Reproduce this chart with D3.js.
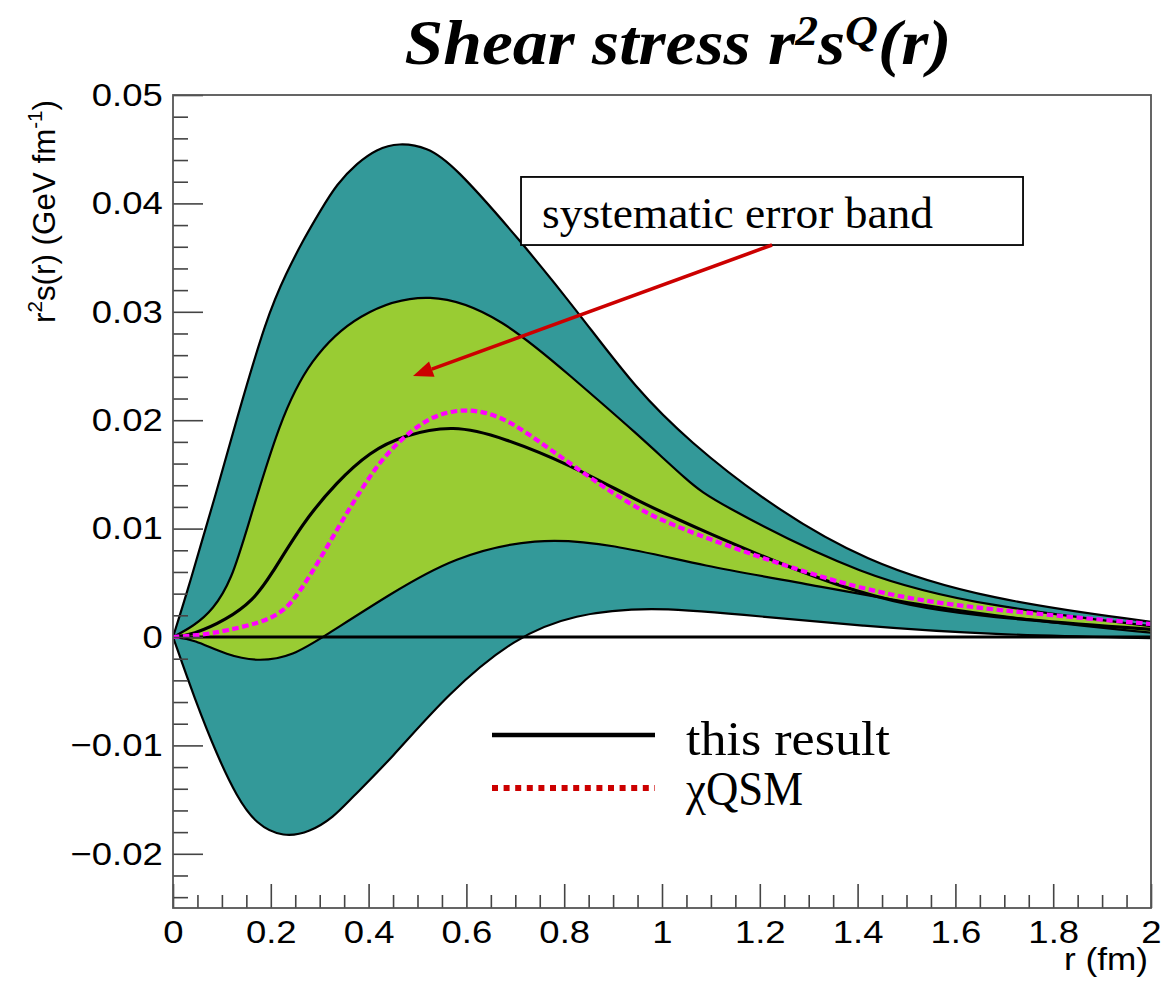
<!DOCTYPE html>
<html><head><meta charset="utf-8">
<script src="https://cdn.jsdelivr.net/npm/d3@7"></script>
<style>body{margin:0;background:#fff;} svg{display:block}</style>
</head><body>
<svg id="c" width="1166" height="982"></svg>
<script>
// ---------- data (r in fm, value in GeV fm^-1) ----------
const outerUpper = [[0,0],[0.03,0.0043],[0.06,0.0090],[0.084,0.0126],[0.127,0.0196],[0.192,0.0296],[0.232,0.0336],[0.266,0.0366],[0.301,0.0393],[0.335,0.0418],[0.376,0.0437],[0.416,0.0450],[0.461,0.0456],[0.52,0.0452],[0.573,0.0436],[0.71,0.0366],[0.833,0.0297],[0.948,0.0228],[1.057,0.0180],[1.207,0.0126],[1.413,0.0069],[1.671,0.0034],[2,0.0014]];
const outerLower = [[0,0],[0.045,-0.0058],[0.09,-0.0109],[0.13,-0.0147],[0.17,-0.0173],[0.226,-0.0185],[0.28,-0.0180],[0.329,-0.0166],[0.362,-0.0150],[0.445,-0.0113],[0.562,-0.0052],[0.70,0],[0.82,0.0021],[0.974,0.0028],[1.155,0.0021],[1.413,0.0010],[1.671,0.0002],[2,-0.0001]];
const innerUpper = [[0,0],[0.042,0.0010],[0.082,0.0025],[0.12,0.0053],[0.151,0.0099],[0.219,0.0201],[0.28,0.0256],[0.376,0.0299],[0.526,0.0321],[0.675,0.0294],[0.812,0.0241],[0.948,0.0188],[1.057,0.0142],[1.103,0.0126],[1.413,0.0054],[1.671,0.0028],[2,0.0010]];
const innerLower = [[0,0],[0.042,-0.0002],[0.11,-0.0017],[0.178,-0.0023],[0.246,-0.0017],[0.307,0],[0.445,0.0040],[0.574,0.0074],[0.742,0.0092],[0.897,0.0086],[1.09,0.0065],[1.284,0.0050],[1.542,0.0028],[1.8,0.0013],[2,0.0004]];
const thisResult = [[0,0],[0.04,0.0002],[0.11,0.0016],[0.164,0.0034],[0.198,0.0055],[0.266,0.0106],[0.335,0.0143],[0.403,0.0171],[0.471,0.0186],[0.573,0.0196],[0.675,0.0184],[0.812,0.0159],[0.948,0.0126],[1.057,0.0103],[1.413,0.0034],[1.671,0.0018],[2,0.0007]];
const chiQSM = [[0,0],[0.062,0.0002],[0.11,0.0006],[0.178,0.0013],[0.226,0.0023],[0.26,0.0042],[0.301,0.0072],[0.348,0.0109],[0.389,0.0139],[0.430,0.0166],[0.485,0.0190],[0.539,0.0206],[0.607,0.0211],[0.675,0.0203],[0.744,0.0182],[0.846,0.0149],[0.948,0.0118],[1.057,0.0096],[1.413,0.0040],[1.671,0.0025],[2,0.0012]];

const xTickValues = [0,0.2,0.4,0.6,0.8,1,1.2,1.4,1.6,1.8,2];
const xTickLabels = ["0","0.2","0.4","0.6","0.8","1","1.2","1.4","1.6","1.8","2"];
const yTickValues = [-0.02,-0.01,0,0.01,0.02,0.03,0.04,0.05];
const yTickLabels = ["\u22120.02","\u22120.01","0","0.01","0.02","0.03","0.04","0.05"];
const legendLabels = ["this result","\u03c7QSM"];
const annotationText = "systematic error band";

// ---------- layout ----------
const frame = {l:173, r:1151, t:95, b:908};
const svg = d3.select("#c");
const x = d3.scaleLinear().domain([0,2]).range([frame.l, frame.r]);
const y = d3.scaleLinear().domain([-0.025,0.05]).range([frame.b, frame.t]);
const TEAL = "#339999", GREEN = "#99cc33";
const serif = "'Liberation Serif', serif", sans = "'Liberation Sans', Arial, sans-serif";

svg.append("rect").attr("width",1166).attr("height",982).attr("fill","#fff");
svg.append("defs").append("clipPath").attr("id","clip").append("rect")
  .attr("x",frame.l).attr("y",frame.t).attr("width",frame.r-frame.l).attr("height",frame.b-frame.t);

const line = d3.line().x(d=>x(d[0])).y(d=>y(d[1])).curve(d3.curveBasis);
function band(up, low){
  return line(up) + "L" + line(low.slice().reverse()).slice(1) + "Z";
}
const plot = svg.append("g").attr("clip-path","url(#clip)");
plot.append("path").attr("d", band(outerUpper, outerLower)).attr("fill", TEAL);
plot.append("path").attr("d", band(innerUpper, innerLower)).attr("fill", GREEN);
[outerUpper, outerLower, innerUpper, innerLower].forEach(c=>{
  plot.append("path").attr("d", line(c)).attr("fill","none").attr("stroke","#000").attr("stroke-width",2.2);
});
plot.append("line").attr("x1",x(0)).attr("x2",x(2)).attr("y1",y(0)).attr("y2",y(0))
  .attr("stroke","#000").attr("stroke-width",2.8);
plot.append("path").attr("d", line(thisResult)).attr("fill","none").attr("stroke","#000").attr("stroke-width",3.2);
plot.append("path").attr("d", line(chiQSM)).attr("fill","none").attr("stroke","#ff00ff")
  .attr("stroke-width",4.2).attr("stroke-dasharray","6.5,3.5");

// ---------- axes ----------
const axG = svg.append("g");
const yMinor = d3.range(-24,50,2).map(v=>v/1000).filter(v=>Math.abs(Math.round(v*1000)%10)!==0);
const xMinor = d3.range(0,41).map(v=>v*0.05).filter(v=>Math.abs(Math.round(v*100)%20)!==0);

const yAx = axG.append("g").attr("transform",`translate(${frame.l},0)`)
  .call(d3.axisLeft(y).tickValues(yTickValues).tickSize(-30).tickPadding(9)
    .tickFormat((d,i)=>yTickLabels[i]));
const yAxMin = axG.append("g").attr("transform",`translate(${frame.l},0)`)
  .call(d3.axisLeft(y).tickValues(yMinor).tickSize(-15).tickFormat(""));
const xAx = axG.append("g").attr("transform",`translate(0,${frame.b})`)
  .call(d3.axisBottom(x).tickValues(xTickValues).tickSize(-24).tickPadding(12)
    .tickFormat((d,i)=>xTickLabels[i]));
const xAxMin = axG.append("g").attr("transform",`translate(0,${frame.b})`)
  .call(d3.axisBottom(x).tickValues(xMinor).tickSize(-13).tickFormat(""));
[yAx,yAxMin,xAx,xAxMin].forEach(g=>{
  g.select(".domain").remove();
  g.selectAll(".tick line").attr("stroke","#444").attr("stroke-width",1.6);
  g.selectAll("text").attr("font-family",sans).attr("font-size",32).attr("fill","#000")
    .attr("transform","scale(1.14,1)");
});
svg.append("rect").attr("x",frame.l).attr("y",frame.t).attr("width",frame.r-frame.l).attr("height",frame.b-frame.t)
  .attr("fill","none").attr("stroke","#555").attr("stroke-width",1.8);

// axis titles
svg.append("text").attr("x",frame.r-3).attr("y",970).attr("text-anchor","end")
  .attr("font-family",sans).attr("font-size",32)
  .attr("transform",`translate(${frame.r-3},0) scale(1.1,1) translate(${-(frame.r-3)},0)`)
  .text("r (fm)");
const yt = svg.append("text").attr("transform","translate(55,100) rotate(-90)")
  .attr("text-anchor","end").attr("font-family",sans).attr("font-size",32)
  .attr("textLength",223).attr("lengthAdjust","spacingAndGlyphs");
yt.append("tspan").text("r");
yt.append("tspan").attr("font-size",21).attr("dy",-13).text("2");
yt.append("tspan").attr("dy",13).text("s(r) (GeV fm");
yt.append("tspan").attr("font-size",21).attr("dy",-13).text("-1");
yt.append("tspan").attr("dy",13).text(")");

// ---------- title ----------
const tt = svg.append("text").attr("x",678).attr("y",64).attr("text-anchor","middle")
  .attr("font-family",serif).attr("font-weight","bold").attr("font-style","italic").attr("font-size",64)
  .attr("textLength",547).attr("lengthAdjust","spacingAndGlyphs");
tt.append("tspan").text("Shear stress r");
tt.append("tspan").attr("font-size",42).attr("dy",-19).text("2");
tt.append("tspan").attr("dy",19).text("s");
tt.append("tspan").attr("font-size",42).attr("dy",-19).text("Q");
tt.append("tspan").attr("dy",19).text("(r)");

// ---------- annotation ----------
const boxTL = [0.7117, 0.04244], boxBR = [1.7383, 0.03616];
svg.append("rect").attr("x",x(boxTL[0])).attr("y",y(boxTL[1]))
  .attr("width",x(boxBR[0])-x(boxTL[0])).attr("height",y(boxBR[1])-y(boxTL[1]))
  .attr("fill","#fff").attr("stroke","#000").attr("stroke-width",1.8);
svg.append("text").attr("x",x(boxTL[0])+21).attr("y",y(boxTL[1])+51)
  .attr("font-family",serif).attr("font-size",45)
  .attr("textLength",391).attr("lengthAdjust","spacingAndGlyphs").text(annotationText);
const arrFrom = [1.225, 0.03616], arrTo = [0.4908, 0.02408];
{
  const x1=x(arrFrom[0]), y1=y(arrFrom[1]), x2=x(arrTo[0]), y2=y(arrTo[1]);
  const ang=Math.atan2(y2-y1,x2-x1), L=20, hw=8;
  const bx=x2-L*Math.cos(ang), by=y2-L*Math.sin(ang);
  svg.append("line").attr("x1",x1).attr("y1",y1).attr("x2",bx).attr("y2",by)
    .attr("stroke","#cc0000").attr("stroke-width",3.6);
  svg.append("path").attr("d",`M${x2},${y2}L${bx+hw*Math.sin(ang)},${by-hw*Math.cos(ang)}L${bx-hw*Math.sin(ang)},${by+hw*Math.cos(ang)}Z`)
    .attr("fill","#cc0000");
}

// ---------- legend ----------
const lg = svg.append("g");
lg.append("line").attr("x1",492).attr("x2",655).attr("y1",735).attr("y2",735).attr("stroke","#000").attr("stroke-width",4.5);
lg.append("line").attr("x1",492).attr("x2",655).attr("y1",788).attr("y2",788).attr("stroke","#cc0000")
  .attr("stroke-width",6).attr("stroke-dasharray","6,5.6");
lg.append("text").attr("x",686).attr("y",755).attr("font-family",serif).attr("font-size",48)
  .attr("textLength",204).attr("lengthAdjust","spacingAndGlyphs").text(legendLabels[0]);
lg.append("text").attr("x",686).attr("y",805).attr("font-family",serif).attr("font-size",48)
  .attr("textLength",117).attr("lengthAdjust","spacingAndGlyphs").text(legendLabels[1]);
</script>
</body></html>
